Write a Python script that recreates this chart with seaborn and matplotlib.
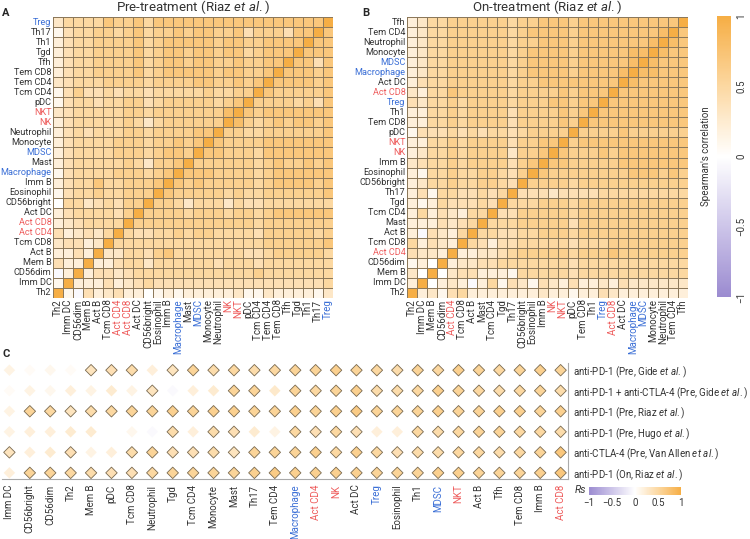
import numpy as np
import pandas as pd
import seaborn as sns
import matplotlib.pyplot as plt
from matplotlib.colors import LinearSegmentedColormap, Normalize
from matplotlib.cm import ScalarMappable

sns.set_theme(style='white')
plt.rcParams['font.family'] = ['Roboto', 'DejaVu Sans']
plt.rcParams['mathtext.fontset'] = 'custom'
plt.rcParams['mathtext.rm'] = 'Roboto'
plt.rcParams['mathtext.it'] = 'Roboto:italic'
plt.rcParams['axes.unicode_minus'] = True

# cell order, bottom -> top (and left -> right)
pre_cells = ['Th2', 'Imm DC', 'CD56dim', 'Mem B', 'Act B', 'Tcm CD8', 'Act CD4', 'Act CD8',
             'Act DC', 'CD56bright', 'Eosinophil', 'Imm B', 'Macrophage', 'Mast', 'MDSC',
             'Monocyte', 'Neutrophil', 'NK', 'NKT', 'pDC', 'Tcm CD4', 'Tem CD4', 'Tem CD8',
             'Tfh', 'Tgd', 'Th1', 'Th17', 'Treg']
on_cells = ['Th2', 'Imm DC', 'Mem B', 'CD56dim', 'Act CD4', 'Tcm CD8', 'Act B', 'Mast',
            'Tcm CD4', 'Tgd', 'Th17', 'CD56bright', 'Eosinophil', 'Imm B', 'NK', 'NKT', 'pDC',
            'Tem CD8', 'Th1', 'Treg', 'Act CD8', 'Act DC', 'Macrophage', 'MDSC', 'Monocyte',
            'Neutrophil', 'Tem CD4', 'Tfh']

# lower triangle rows (row k+1, columns 0..k), each char = r*10, 'n' = -0.05
pre_lower = ['1', 'n2', '422', '2242', '34423', '423435', '2345555', '24555546',
             '055345466', '1455655666', '24557556667', '145555666567', '2455555653667',
             '24555566656776', '245555666566767', '2454555665666677', '24555556535666666',
             '345555566566666668', '1455455664566666567', '14644545545555565566',
             '345556666566667766767', '2455666675677777677667', '24556666756776776676677',
             '245566667567767767756777', '2455666675677777677667777',
             '14556656756676776674666477', '355557667577777777777777777']
on_lower = ['2', '30', '120', '4332', '52432', '2n4325', '2224345', '25243255',
            '212544454', '2415544545', '23556556654', '215565566546', '3455656666467',
            '23556566663667', '225565666646677', '1444545455456666', '22556566664666676',
            '225565666646666767', '4355656666566677677', '32557666665666676777',
            '245566666656677777777', '2355666666567777677778', '23556666665677776777778',
            '235566666656777767777788', '2355666666566777677777778',
            '23556666665677776777777778', '235566666656677767777777777']

c_cells = ['Imm DC', 'CD56bright', 'CD56dim', 'Th2', 'Mem B', 'pDC', 'Tcm CD8', 'Neutrophil',
           'Tgd', 'Tcm CD4', 'Monocyte', 'Mast', 'Th17', 'Tem CD4', 'Macrophage', 'Act CD4',
           'NK', 'Act DC', 'Treg', 'Eosinophil', 'Th1', 'MDSC', 'NKT', 'Act B', 'Tfh',
           'Tem CD8', 'Imm B', 'Act CD8']
c_rows = [r'anti-PD-1 (Pre, Gide $et\ al.$)',
          r'anti-PD-1 + anti-CTLA-4 (Pre, Gide $et\ al.$)',
          r'anti-PD-1 (Pre, Riaz $et\ al.$)',
          r'anti-PD-1 (Pre, Hugo $et\ al.$)',
          r'anti-CTLA-4 (Pre, Van Allen $et\ al.$)',
          r'anti-PD-1 (On, Riaz $et\ al.$)']
rs_gide_pd1 = [0.15, 0.05, 0.1, 0.05, 0.35, 0.4, 0.45, 0.2, 0.35, 0.55, 0.45, 0.5, 0.45, 0.5,
               0.55, 0.55, 0.6, 0.55, 0.5, 0.45, 0.55, 0.5, 0.6, 0.55, 0.5, 0.55, 0.6, 0.55]
rs_gide_combo = [0.05, 0.15, 0.1, 0.2, 0.15, 0.25, 0.15, 0.35, -0.05, 0.2, 0.25, 0.55, 0.55, 0.28,
                 0.55, 0.5, 0.55, 0.6, 0.45, 0.45, 0.5, 0.6, 0.55, 0.5, 0.45, 0.5, 0.55, 0.45]
rs_riaz_pre = [0.15, 0.55, 0.5, 0.35, 0.45, 0.5, 0.55, 0.55, 0.6, 0.55, 0.6, 0.6, 0.55, 0.55,
               0.6, 0.55, 0.6, 0.65, 0.55, 0.55, 0.55, 0.6, 0.55, 0.55, 0.6, 0.6, 0.55, 0.6]
rs_hugo = [0.15, 0.2, 0.2, 0.25, 0.25, 0.0, 0.1, -0.05, 0.45, 0.2, 0.45, 0.4, 0.25, 0.15,
           0.5, 0.4, 0.5, 0.4, 0.2, 0.2, 0.5, 0.45, 0.5, 0.55, 0.55, 0.5, 0.5, 0.45]
rs_vanallen = [0.35, 0.2, 0.25, 0.4, 0.15, 0.2, 0.45, 0.55, 0.4, 0.4, 0.45, 0.35, 0.55, 0.55,
               0.55, 0.6, 0.5, 0.6, 0.5, 0.4, 0.45, 0.45, 0.5, 0.5, 0.45, 0.5, 0.55, 0.7]
rs_riaz_on = [0.2, 0.55, 0.55, 0.5, 0.45, 0.4, 0.4, 0.5, 0.55, 0.55, 0.55, 0.55, 0.6, 0.65,
              0.6, 0.6, 0.6, 0.6, 0.55, 0.55, 0.55, 0.6, 0.6, 0.55, 0.55, 0.55, 0.6, 0.7]

blue_cells = ['Treg', 'Macrophage', 'MDSC']
red_cells = ['NKT', 'NK', 'Act CD8', 'Act CD4']


def label_color(name):
    if name in blue_cells:
        return '#3b6fd6'
    if name in red_cells:
        return '#ee5c5c'
    return '#333333'


def full_matrix(cells, lower):
    n = len(cells)
    m = np.eye(n)
    for k, row in enumerate(lower):
        assert len(row) == k + 1, (k, row)
        for j, ch in enumerate(row):
            v = -0.05 if ch == 'n' else int(ch) / 10
            m[k + 1, j] = v
            m[j, k + 1] = v
    return pd.DataFrame(m[::-1], index=cells[::-1], columns=cells)


cmap = LinearSegmentedColormap.from_list(
    'rs', [(0, '#9b8bd0'), (0.25, '#cdc5e9'), (0.5, '#ffffff'), (0.75, '#fcd8a2'), (1, '#f6ae45')])
edge = '#8c785a'
fs = 7

fig = plt.figure(figsize=(7.5, 5.39), dpi=100)
ax_a = fig.add_axes([0.0707, 0.4471, 0.3733, 0.5213])
ax_b = fig.add_axes([0.5427, 0.4471, 0.3747, 0.5213])
cax = fig.add_axes([0.956, 0.449, 0.0187, 0.521])


def draw_heat(ax, cells, lower, title, cbar_ax=None):
    df = full_matrix(cells, lower)
    sig = df.abs() >= 0.3
    sns.heatmap(df, ax=ax, cmap=cmap, vmin=-1, vmax=1, cbar=cbar_ax is not None,
                cbar_ax=cbar_ax, xticklabels=True, yticklabels=True)
    sns.heatmap(df, ax=ax, cmap=cmap, vmin=-1, vmax=1, cbar=False, mask=~sig,
                linewidths=0.6, linecolor=edge, xticklabels=True, yticklabels=True)
    ax.tick_params(length=0, pad=1, labelsize=fs)
    ax.tick_params(axis='y', labelsize=6.6)
    for t in ax.get_xticklabels():
        t.set_rotation(90)
        t.set_color(label_color(t.get_text()))
    for t in ax.get_yticklabels():
        t.set_rotation(0)
        t.set_color(label_color(t.get_text()))
    ax.set_title(title, fontsize=9.5, pad=4, color='#333333')


draw_heat(ax_a, pre_cells, pre_lower, r'Pre-treatment (Riaz $et\ al.$)')
draw_heat(ax_b, on_cells, on_lower, r'On-treatment (Riaz $et\ al.$)', cbar_ax=cax)

cax.set_yticks([-1, -0.5, 0, 0.5, 1])
cax.set_yticklabels(['\u22121', '\u22120.5', '0', '0.5', '1'], rotation=90, va='center',
                    fontsize=fs, color='#333333')
cax.tick_params(length=0, pad=4)
cax.yaxis.set_label_position('left')
cax.set_ylabel("Spearman's correlation", fontsize=fs, color='#333333', labelpad=4)
for s in cax.spines.values():
    s.set_visible(False)

# panel C
ax_c = fig.add_axes([0.003, 0.1113, 0.754, 0.2152])
rs_rows = [rs_gide_pd1, rs_gide_combo, rs_riaz_pre, rs_hugo, rs_vanallen, rs_riaz_on]
long = pd.DataFrame([(j, i, v) for i, row in enumerate(rs_rows) for j, v in enumerate(row)],
                    columns=['cell', 'cohort', 'rs'])
long['sig'] = long['rs'].abs() >= 0.3
sns.scatterplot(data=long[~long['sig']], x='cell', y='cohort', hue='rs', palette=cmap,
                hue_norm=(-1, 1), marker='D', s=34, linewidth=0, legend=False, ax=ax_c)
sns.scatterplot(data=long[long['sig']], x='cell', y='cohort', hue='rs', palette=cmap,
                hue_norm=(-1, 1), marker='D', s=34, linewidth=0.6, edgecolor='#7a6a50',
                legend=False, ax=ax_c)
ax_c.set_xlim(-0.35, len(c_cells) - 0.65)
ax_c.set_ylim(len(c_rows) - 0.7, -0.35)
ax_c.set_xticks(range(len(c_cells)))
ax_c.set_xticklabels(c_cells, rotation=90, fontsize=fs)
for t in ax_c.get_xticklabels():
    t.set_color(label_color(t.get_text()))
ax_c.yaxis.tick_right()
ax_c.set_yticks(range(len(c_rows)))
ax_c.set_yticklabels(c_rows, fontsize=fs, color='#333333')
ax_c.tick_params(length=0, pad=4)
ax_c.set_xlabel('')
ax_c.set_ylabel('')
for side in ['top', 'left']:
    ax_c.spines[side].set_visible(False)
for side in ['bottom', 'right']:
    ax_c.spines[side].set_color('#aaaaaa')
    ax_c.spines[side].set_linewidth(0.8)

rs_ax = fig.add_axes([0.785, 0.0816, 0.123, 0.0148])
cb = fig.colorbar(ScalarMappable(Normalize(-1, 1), cmap), cax=rs_ax, orientation='horizontal')
cb.set_ticks([-1, -0.5, 0, 0.5, 1])
cb.set_ticklabels(['\u22121', '\u22120.5', '0', '0.5', '1'])
cb.outline.set_visible(False)
rs_ax.tick_params(length=0, pad=2, labelsize=fs, colors='#333333')
fig.text(0.766, 0.091, 'Rs', fontsize=fs + 0.5, style='italic', color='#333333', va='center')

for letter, x, y in [('A', 0.003, 0.985), ('B', 0.483, 0.985), ('C', 0.003, 0.352)]:
    fig.text(x, y, letter, fontsize=8, fontweight='bold', va='top')

fig.savefig('out.png', dpi=100)
